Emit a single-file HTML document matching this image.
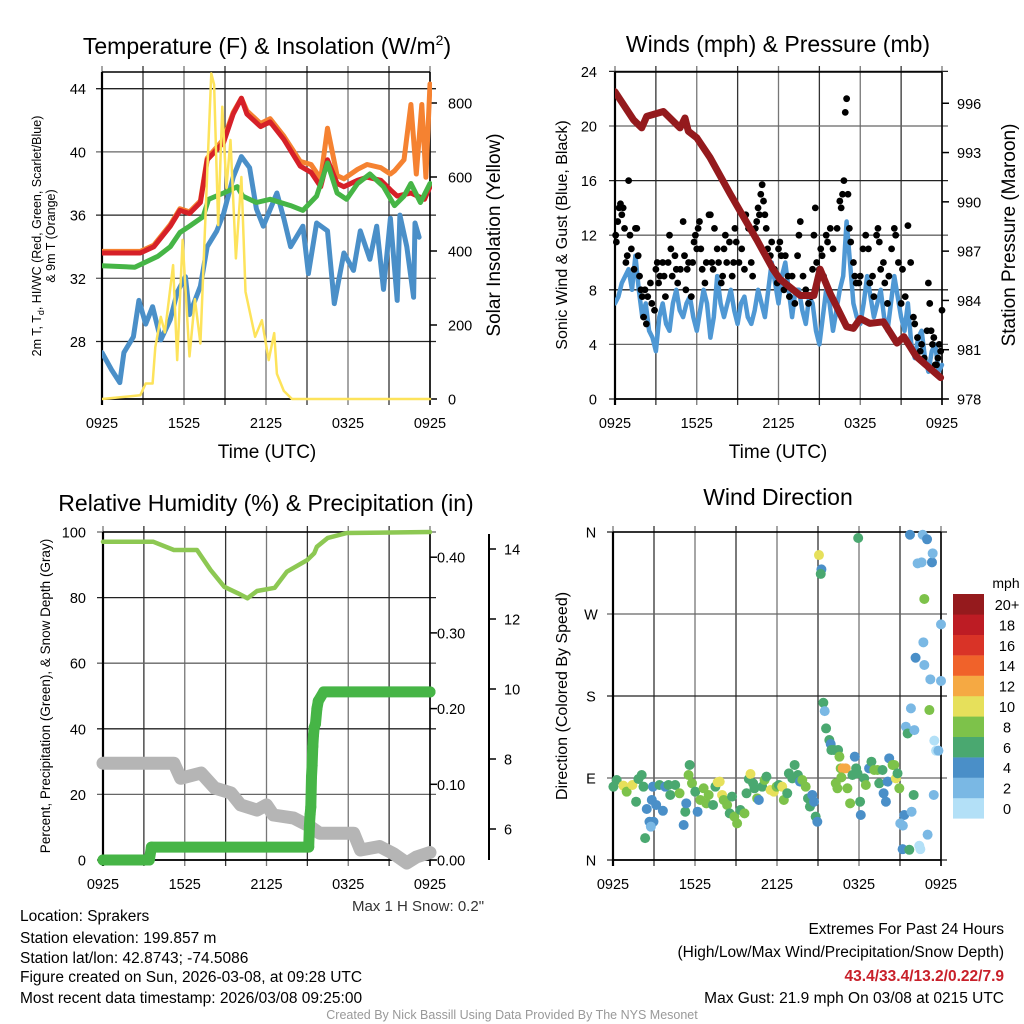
<!DOCTYPE html>
<html><head><meta charset="utf-8">
<style>
html,body{margin:0;padding:0;background:#fff;}
svg{display:block;font-family:"Liberation Sans Narrow","Liberation Sans",sans-serif;}
</style></head>
<body>
<svg id="chart" width="1024" height="1024" viewBox="0 0 1024 1024" xmlns="http://www.w3.org/2000/svg">
<rect width="1024" height="1024" fill="#fff"/>
<text x="267" y="54" font-size="23" text-anchor="middle" font-family="Liberation Sans, sans-serif">Temperature (F) &amp; Insolation (W/m<tspan dy="-9" font-size="14">2</tspan><tspan dy="9">)</tspan></text>
<text x="778" y="52" font-size="23" text-anchor="middle" font-family="Liberation Sans, sans-serif">Winds (mph) &amp; Pressure (mb)</text>
<text x="266" y="511" font-size="23" text-anchor="middle" font-family="Liberation Sans, sans-serif">Relative Humidity (%) &amp; Precipitation (in)</text>
<text x="778" y="505" font-size="23" text-anchor="middle" font-family="Liberation Sans, sans-serif">Wind Direction</text>
<text transform="translate(41,236) rotate(-90)" font-size="12.5" text-anchor="middle" font-family="Liberation Sans, sans-serif">2m T, T<tspan dy="3" font-size="9">d</tspan><tspan dy="-3">, HI/WC (Red, Green, Scarlet/Blue)</tspan></text>
<text transform="translate(55,236) rotate(-90)" font-size="12.5" text-anchor="middle" font-family="Liberation Sans, sans-serif">&amp; 9m T (Orange)</text>
<text transform="translate(500,235) rotate(-90)" font-size="19" text-anchor="middle" font-family="Liberation Sans, sans-serif">Solar Insolation (Yellow)</text>
<text x="267" y="458" font-size="19" text-anchor="middle" font-family="Liberation Sans, sans-serif">Time (UTC)</text>
<text transform="translate(567,235) rotate(-90)" font-size="16" text-anchor="middle" font-family="Liberation Sans, sans-serif">Sonic Wind &amp; Gust (Blue, Black)</text>
<text transform="translate(1015,235) rotate(-90)" font-size="19" text-anchor="middle" font-family="Liberation Sans, sans-serif">Station Pressure (Maroon)</text>
<text x="778" y="458" font-size="19" text-anchor="middle" font-family="Liberation Sans, sans-serif">Time (UTC)</text>
<text transform="translate(50,696) rotate(-90)" font-size="13.5" text-anchor="middle" font-family="Liberation Sans, sans-serif">Percent, Precipitation (Green), &amp; Snow Depth (Gray)</text>
<text transform="translate(567,696) rotate(-90)" font-size="16" text-anchor="middle" font-family="Liberation Sans, sans-serif">Direction (Colored By Speed)</text>
<text x="418" y="911" font-size="15" text-anchor="middle" fill="#333">Max 1 H Snow: 0.2"</text>
<g font-size="15.5">
<text x="20" y="921">Location: Sprakers</text>
<text x="20" y="943">Station elevation: 199.857 m</text>
<text x="20" y="963">Station lat/lon: 42.8743; -74.5086</text>
<text x="20" y="982">Figure created on Sun, 2026-03-08, at 09:28 UTC</text>
<text x="20" y="1003">Most recent data timestamp: 2026/03/08 09:25:00</text>
</g>
<g font-size="15.5" text-anchor="end">
<text x="1004" y="934">Extremes For Past 24 Hours</text>
<text x="1004" y="957">(High/Low/Max Wind/Precipitation/Snow Depth)</text>
<text x="1004" y="981" fill="#c8202a" font-weight="bold">43.4/33.4/13.2/0.22/7.9</text>
<text x="1004" y="1003">Max Gust: 21.9 mph On 03/08 at 0215 UTC</text>
</g>
<text x="512" y="1019" font-size="12.5" text-anchor="middle" fill="#999">Created By Nick Bassill Using Data Provided By The NYS Mesonet</text>
<text x="1006" y="588" font-size="14" text-anchor="middle" font-family="Liberation Sans, sans-serif">mph</text>
</svg>
<script>
const xTickLabels = ["0925","1525","2125","0325","0925"];
const tempTicks = [28,32,36,40,44];
const solarTicks = [0,200,400,600,800];
const redT = [0,2.8,3.8,5.0,5.7,6.4,7.2,7.7,8.9,9.6,10.2,10.6,11.6,12.3,13.3,14.5,15.3,16.0,16.5,17.2,17.7,18.7,19.4,20.4,21.1,21.6,22.6,23.6,24];
const redV = [33.6,33.6,34.0,35.3,36.3,36.1,36.8,39.5,40.6,42.4,43.4,42.4,41.6,41.9,40.8,39.1,38.7,37.8,39.5,38.0,37.8,38.2,38.4,38.2,37.6,37.2,37.4,37.0,37.8];
const orangeT = [0,2.8,3.8,5.0,5.7,6.4,7.2,7.7,8.9,9.6,10.2,10.6,11.6,12.3,13.3,14.5,15.3,16.0,16.5,17.2,17.7,18.7,19.4,20.4,21.1,21.4,22.1,22.6,23.0,23.4,23.7,24];
const orangeV = [33.7,33.7,34.1,35.4,36.4,36.2,36.9,39.6,40.8,42.5,43.4,42.6,41.8,42.1,41.0,39.4,39.2,38.3,41.5,38.5,38.3,38.9,39.2,39.0,38.6,38.8,39.5,43.0,38.6,43.0,38.4,44.3];
const greenT = [0,2.4,4.1,5.0,5.7,6.4,7.4,7.8,8.9,9.9,10.3,11.3,12.3,13.8,14.7,15.7,16.5,17.2,17.9,18.7,19.6,20.6,21.4,22.1,22.6,23.3,24];
const greenV = [32.8,32.7,33.4,34.0,34.9,35.3,35.9,37.0,37.4,37.8,37.2,36.8,37.0,36.6,36.3,37.2,39.3,37.4,37.0,38.0,38.6,37.8,36.6,37.2,38.0,36.8,38.0];
const blueT = [0,0.7,1.3,1.6,2.3,2.7,3.2,3.7,4.3,5.0,5.5,6.1,6.4,7.2,7.7,8.4,8.9,9.6,10.2,10.8,11.3,11.8,12.8,13.3,13.8,14.7,15.1,15.7,16.5,17.0,17.7,18.4,18.9,19.6,20.1,20.6,21.1,21.6,21.8,22.3,22.8,22.9,23.2];
const blueV = [27.3,26.2,25.4,27.3,28.3,30.6,29.1,30.2,28.1,29.4,31.1,32.1,29.7,31.5,34.0,35.0,36.1,38.4,39.7,39.0,36.4,35.3,37.4,35.8,34.0,35.3,32.3,35.5,35.0,30.4,33.6,32.5,35.0,33.2,35.3,31.3,35.8,30.6,36.0,34.0,30.8,35.5,34.6];
const solarT = [0,2.8,3.2,3.7,3.9,4.3,4.6,5.2,5.5,5.9,6.4,6.8,7.2,7.7,8.0,8.2,8.5,8.8,9.1,9.4,9.8,10.2,10.5,11.2,11.7,12.2,12.6,12.8,13.3,13.9,24];
const solarV = [0,10,42,42,140,222,180,362,105,430,115,270,150,610,880,850,470,790,570,700,380,600,290,168,213,105,178,68,22,0,0];
const windTicks = [0,4,8,12,16,20,24];
const presTicks = [978,981,984,987,990,993,996];
const windV = [7,7.5,8.5,9,9.5,8,10.5,8,6,7,5,4.5,3.5,6,7,5.5,5,7,8,6.5,6,7,7.5,6,5,6.5,8,7,4.5,6,9,7,6,7,8,6.5,5.5,7,7.5,6,5.5,6.5,8,7,6,8,10,8.5,7,9,10,8,6,8,8,6.5,5.5,7.5,7,5,4,6,8,7,5,6.5,8,9,13,10,7,6,5.5,7,9,7.5,6,7,8,6,5,7,9,7.5,6,5,7,4,3,4.5,5,3,2,3.5,4,2,2.5];
const gustT = [0.05,0.1,0.2,0.3,0.4,0.5,0.6,0.7,0.8,0.9,1.0,1.1,1.2,1.4,1.5,1.6,1.7,1.8,1.9,2.0,2.1,2.2,2.3,2.4,2.6,2.7,2.9,3.0,3.1,3.2,3.3,3.5,3.6,3.7,3.9,4.0,4.1,4.2,4.4,4.5,4.6,4.8,5.0,5.1,5.2,5.3,5.4,5.6,5.7,5.8,5.9,6.0,6.1,6.2,6.3,6.4,6.6,6.7,6.9,7.0,7.1,7.2,7.3,7.5,7.6,7.8,7.9,8.0,8.1,8.2,8.4,8.6,8.7,8.8,8.9,9.1,9.3,9.5,9.6,9.8,10.0,10.1,10.3,10.4,10.5,10.6,10.7,10.8,10.9,11.0,11.1,11.2,11.4,11.5,11.7,11.9,12.0,12.1,12.2,12.4,12.5,12.7,12.8,13.0,13.2,13.4,13.5,13.6,13.8,14.0,14.2,14.4,14.5,14.6,14.7,14.8,15.0,15.1,15.2,15.3,15.5,15.6,15.8,16.0,16.3,16.5,16.6,16.7,16.8,16.9,17.0,17.1,17.2,17.3,17.5,17.6,17.7,17.9,18.0,18.2,18.4,18.6,18.7,18.9,19.0,19.2,19.3,19.4,19.5,19.7,19.8,20.0,20.1,20.3,20.5,20.6,20.8,21.0,21.1,21.3,21.5,21.7,21.9,22.0,22.2,22.4,22.5,22.7,22.9,23.0,23.1,23.2,23.3,23.4,23.5,23.6,23.7,23.8,23.9,24.0];
const gustV = [12,11.5,13,14,14.3,13.5,14,12.5,10,10.5,16,12,11,9.5,12.5,12.5,10.5,9,8,7.5,6,8,5.5,7.5,8.5,7,6.5,9.5,10,8.5,9,10,9,7.5,10,12,11,9,10.5,9.5,8.5,9.5,13,10.5,8,9.5,10,7.5,10,11.5,12,11,12.5,13,11,9.5,8.5,10,13.5,13.5,10,9.5,12.5,11,10,8.5,9,11,12,10,11.5,9,10,12.5,11.5,10,11,9.5,13.5,12.5,10,9,12.5,13,14,13.5,15,15.7,14.5,13.5,12.5,11,10.5,11.5,9.5,8.5,11,11.5,10.5,8,10.5,9,7.5,9,7,10.5,12,13,9,8,7,7.5,9.5,12,14,10,9.5,11,10.5,9,12,11.5,12.5,11,12.5,14.5,14,15,16,21,22,15,12.5,11.5,10,9,8.5,8.5,9,11,12,11,8.5,9,7.5,12,12.5,11.5,9.5,10,8.5,7,9,11,12.5,12,10,7,9.5,7.5,12.7,10,6,5.5,4.5,3.5,4,3,5,8.5,7,5,4,4.5,2.5,2.5,3,4,3.5,6.5];
const presT = [0,1.35,1.96,2.33,3.55,4.77,5.14,5.38,6.0,6.97,8.44,9.42,10.4,11.6,12.1,13.6,14.6,15.05,15.8,17.0,17.5,18.0,18.7,19.7,20.7,21.2,22.1,23.9];
const presV = [996.7,995.0,994.5,995.2,995.5,994.5,995.1,994.3,993.9,992.7,990.5,989.1,987.7,985.9,985.3,984.3,984.3,985.9,984.4,982.4,982.3,982.9,982.6,982.7,981.4,981.8,980.6,979.3];
const rhTicks = [0,20,40,60,80,100];
const precipTicks = [0.00,0.10,0.20,0.30,0.40];
const snowTicks = [6,8,10,12,14];
const rhT = [0,3.7,5.2,6.9,7.9,8.9,9.9,10.6,11.3,12.6,13.5,15.0,15.5,15.7,16.5,17.9,24];
const rhV = [97,97,94.5,94.5,88.4,83.3,81.3,79.8,82,83,87.9,91.5,93.5,95.5,98.2,99.7,100];
const precipT = [0,3.4,3.55,15.1,15.15,15.2,15.25,15.3,15.35,15.4,15.45,15.5,15.6,15.7,15.8,16.2,24];
const precipV = [0,0,0.017,0.017,0.045,0.06,0.07,0.11,0.125,0.15,0.165,0.175,0.18,0.2,0.21,0.222,0.222];
const snowT = [0,5.2,5.7,7.2,8.2,9.4,10.1,11.3,12.0,12.5,14.0,15.2,15.9,18.4,18.9,20.3,21.3,22.3,23.0,24];
const snowV = [7.88,7.88,7.45,7.6,7.17,7.03,6.69,6.54,6.69,6.4,6.31,6.07,5.88,5.88,5.4,5.5,5.3,5.03,5.2,5.33];
const dirLabels = ["N","E","S","W","N"];
const speedBins = ["0","2","4","6","8","10","12","14","16","18","20+"];
const dirT = [0.03,0.27,0.76,1.0,1.42,1.69,1.86,2.1,2.23,2.35,2.47,2.67,2.84,2.96,2.77,2.92,3.16,3.4,3.65,3.82,4.06,4.19,4.55,4.87,5.17,5.29,5.36,5.53,5.61,5.78,6.02,6.19,6.39,6.63,6.83,7.0,7.32,7.49,7.66,7.81,7.98,8.1,8.35,8.54,8.71,8.88,9.08,9.32,9.62,9.77,9.94,10.06,10.25,10.35,10.55,10.67,10.92,11.09,11.23,11.53,11.77,11.97,12.14,12.38,12.5,12.75,12.87,13.12,13.29,13.53,13.68,13.85,14.1,14.27,14.41,14.58,14.71,14.83,14.95,15.07,15.25,15.2,15.39,15.49,15.59,15.83,15.93,15.98,16.17,16.47,16.57,16.66,16.81,17.03,16.71,16.3,16.42,17.15,17.35,17.52,17.69,17.79,17.89,17.94,18.08,18.13,18.38,18.5,18.74,18.91,19.11,19.35,19.48,19.72,19.8,19.97,20.09,20.21,20.46,20.58,20.7,20.82,20.95,21.19,21.31,21.43,21.56,21.68,21.8,21.85,22.0,22.05,21.73,22.29,22.41,22.49,22.58,22.66,22.78,22.98,23.15,23.22,23.34,23.39,23.47,23.51,23.64,23.81,24.0,24.1,22.14,22.71,22.78,23.02,21.02,21.21];
const dirV = [80.5,87.8,81.6,75.0,82.3,64,88.9,93.3,80.5,24,56,42,65.9,42,36.6,80.5,60.4,82.3,54,80.5,82.3,71.4,82.3,73.2,38.4,53,62.2,93.3,104.3,84.2,75.0,53,65.9,78.7,62.2,71.4,60.4,80.5,85.3,86,71.4,65.9,60.4,51.2,69.6,47.6,40.2,54.9,51.2,73.2,88.9,94.4,84.2,78.7,67.7,65.9,80.5,87.8,91.5,76.8,75.0,80.5,82.3,80.5,65.9,73.2,95.1,89.6,104.3,93.3,86,87.8,80.5,67.7,58.6,71.4,64,47.6,42,334.7,319,314,172.6,163.4,144.4,131.7,127.3,120.7,120.7,120.7,113.4,100.6,100.6,100.6,90.7,84.2,78.7,78.7,62.2,93.3,113.4,100.6,95.1,353.4,64,49.4,89.6,82.3,100.6,107.9,98.8,98.8,84.2,98.8,73.2,64,86,111.6,104.3,104.3,89.6,95.1,78.7,11.9,49.4,146.3,138.9,11.2,166.4,53,71.4,142.6,357,325.6,15.6,11.9,326.7,357,286.5,352,164.6,198.3,326.7,336.6,71.4,131,120,120,196.5,258.6,222,238.9,214,27.8,40.2,37.7];
const dirS = [6,6,10,8,10,6,6,6,6,6,4,4,4,4,2,4,4,6,4,4,6,6,6,8,4,6,4,8,6,8,6,4,8,8,8,8,6,6,10,10,10,8,8,6,6,8,8,6,8,6,6,10,6,6,8,4,6,8,6,10,10,8,6,10,8,6,6,6,6,6,4,8,8,6,6,4,4,6,4,10,4,6,6,2,6,6,4,6,6,6,8,8,12,12,8,8,8,8,8,6,4,6,6,6,6,4,6,8,4,6,8,8,6,6,4,4,4,4,8,8,10,6,8,4,4,2,6,6,2,2,6,2,4,2,0,0,2,2,8,4,8,2,4,2,2,0,0,2,2,2,4,2,2,2,2,2,2];
</script>
<script>
const NS = "http://www.w3.org/2000/svg";
const svg = document.getElementById('chart');
function mk(tag, attrs, parent) {
  const e = document.createElementNS(NS, tag);
  for (const k in attrs) e.setAttribute(k, attrs[k]);
  (parent || svg).appendChild(e);
  return e;
}
function pathD(ts, vs, fx, fy) {
  return ts.map((t, i) => (i ? 'L' : 'M') + fx(t).toFixed(1) + ',' + fy(vs[i]).toFixed(1)).join('');
}
function frame(name, x0, x1, y0, y1, hLines) {
  const g = mk('g', {});
  
  
  const fx = t => x0 + t * (x1 - x0) / 24;
  for (let h = 0; h <= 24; h += 3) {
    const l = mk('line', {x1: fx(h), x2: fx(h), y1: y0 - 6, y2: y1 + 6, stroke: (h % 6 ? '#333' : '#777'), 'stroke-width': 1.3}, g);
    
    
  }
  hLines.forEach((y, i) => {
    const l = mk('line', {x1: x0 - 6, x2: x1 + 6, y1: y, y2: y, stroke: (i % 2 ? '#666' : '#222'), 'stroke-width': 1.3}, g);
    
    
  });
  mk('line', {x1: x0, x2: x0, y1: y0, y2: y1 + 6, stroke: '#000', 'stroke-width': 2.2}, g);
  mk('line', {x1: x1, x2: x1, y1: y0, y2: y1 + 6, stroke: '#000', 'stroke-width': 1.6}, g);
  mk('line', {x1: x0, x2: x1, y1: y0, y2: y0, stroke: '#000', 'stroke-width': 1.6}, g);
  mk('line', {x1: x0, x2: x1, y1: y1, y2: y1, stroke: '#000', 'stroke-width': 1.8}, g);
  xTickLabels.forEach((lab, i) => {
    const t = mk('text', {x: fx(i * 6), y: y1 + 29, 'font-size': 14.5, 'text-anchor': 'middle'}, g);
    t.textContent = lab;
    
    
  });
  return fx;
}
function tickLabels(ticks, fy, x, anchor, name, fmt, size) {
  ticks.forEach(v => {
    const t = mk('text', {x: x, y: fy(v) + 5.5, 'font-size': size || 14.5, 'text-anchor': anchor});
    t.textContent = fmt ? fmt(v) : v;
    
    
  });
}
function line(ts, vs, fx, fy, color, w, name, clip) {
  const p = mk('path', {d: pathD(ts, vs, fx, fy), fill: 'none', stroke: color, 'stroke-width': w, 'stroke-linejoin': 'round', 'stroke-linecap': 'round'});
  if (clip) p.setAttribute('clip-path', clip);
  
  
  return p;
}
function clipRect(id, x, y, w, h) {
  const cp = mk('clipPath', {id: id});
  mk('rect', {x: x, y: y, width: w, height: h}, cp);
  return 'url(#' + id + ')';
}
// Panel 1
const yT = v => 88.7 + (44 - v) * 15.8;
const yS = w => 399 - w * 0.37;
const fx1 = frame('temperature', 102, 430, 72, 399, tempTicks.map(yT));
tickLabels(tempTicks, yT, 86, 'end', 'temperature-tick-label');
tickLabels(solarTicks, yS, 448, 'start', 'solar-tick-label');
solarTicks.forEach(v => mk('line', {x1: 430, x2: 437, y1: yS(v), y2: yS(v), stroke: '#000', 'stroke-width': 1.5}));
const c1 = clipRect('c1', 102, 72, 330, 330);
line(blueT, blueV, fx1, yT, '#4a8fc8', 5, 'windchill-line', c1);
line(orangeT, orangeV, fx1, yT, '#f58231', 5, 'temp-9m-line', c1);
line(redT, redV, fx1, yT, '#d62028', 5, 'temp-2m-line', c1);
line(greenT, greenV, fx1, yT, '#46b546', 5, 'dewpoint-line', c1);
line(solarT, solarV, fx1, yS, '#fde35b', 2.5, 'solar-line', c1);
// Panel 2
const yW = v => 399 - v * 13.65;
const yP = p => 399 - (p - 978) * 16.43;
const fx2 = frame('winds', 615, 942, 72, 399, windTicks.map(yW));
tickLabels(windTicks, yW, 597, 'end', 'wind-tick-label');
tickLabels(presTicks, yP, 957, 'start', 'pressure-tick-label');
presTicks.forEach(v => mk('line', {x1: 942, x2: 949, y1: yP(v), y2: yP(v), stroke: '#000', 'stroke-width': 1.5}));
const c2 = clipRect('c2', 615, 72, 330, 330);
const windT = windV.map((v, i) => i * 24 / (windV.length - 1));
line(windT, windV, fx2, yW, '#4f98d4', 4.5, 'sonic-wind-line', c2);
gustT.forEach((t, i) => {
  const c = mk('circle', {cx: fx2(t), cy: yW(gustV[i]), r: 3.4, fill: '#000'});
  
  
});
line(presT, presV, fx2, yP, '#941a1d', 7, 'pressure-line', c2);
// Panel 3
const yRH = v => 860 - v * 3.28;
const yPr = v => 860 - v * 757;
const ySn = v => 829 - (v - 6) * 35;
const fx3 = frame('humidity', 103, 430, 532, 860, rhTicks.map(yRH));
tickLabels(rhTicks, yRH, 86, 'end', 'humidity-tick-label');
tickLabels(precipTicks, yPr, 437, 'start', 'precip-tick-label', v => v.toFixed(2));
precipTicks.forEach(v => mk('line', {x1: 430, x2: 437, y1: yPr(v), y2: yPr(v), stroke: '#000', 'stroke-width': 1.5}));
mk('line', {x1: 489, x2: 489, y1: 534, y2: 860, stroke: '#000', 'stroke-width': 2});
snowTicks.forEach(v => mk('line', {x1: 489, x2: 496, y1: ySn(v), y2: ySn(v), stroke: '#000', 'stroke-width': 1.5}));
tickLabels(snowTicks, ySn, 504, 'start', 'snow-tick-label');
line(snowT, snowV, fx3, ySn, '#b5b5b5', 13, 'snow-depth-line');
line(precipT, precipV, fx3, yPr, '#46b546', 11, 'precip-line');
precipT.forEach((t, i) => {
  const c = mk('circle', {cx: fx3(t), cy: yPr(precipV[i]), r: 5.5, fill: '#46b546'});
  
  
});
line(rhT, rhV, fx3, yRH, '#8dc853', 4.5, 'humidity-line');
// Panel 4
const yD = d => 860 - d * 328 / 360;
const fx4 = frame('direction', 613, 941, 532, 860, [0, 90, 180, 270, 360].map(yD));
dirLabels.forEach((lab, i) => {
  const t = mk('text', {x: 591, y: yD(i * 90) + 5.5, 'font-size': 14.5, 'text-anchor': 'middle'});
  t.textContent = i === 1 ? 'E' : i === 2 ? 'S' : i === 3 ? 'W' : 'N';
  
  
});
const binColors = ['#b3e0f7','#7ab8e4','#4a8fc8','#4aa870','#7dc24a','#e6e05b','#f5a943','#f0622a','#d93327','#bd1c24','#951a1d'];
dirT.forEach((t, i) => {
  const b = Math.min(10, Math.floor((dirS[i] || 0) / 2));
  const c = mk('circle', {cx: fx4(Math.min(t, 24)), cy: yD(dirV[i]), r: 5, fill: binColors[b]});
  
  
});
speedBins.forEach((lab, i) => {
  const k = speedBins.length - 1 - i;
  const y = 594 + k * 20.4;
  const r = mk('rect', {x: 953, y: y, width: 31, height: 20.6, fill: binColors[i]});
  
  
  const t = mk('text', {x: 1007, y: y + 16, 'font-size': 14.5, 'text-anchor': 'middle'});
  t.textContent = lab;
  
  
});
</script>
</body></html>
